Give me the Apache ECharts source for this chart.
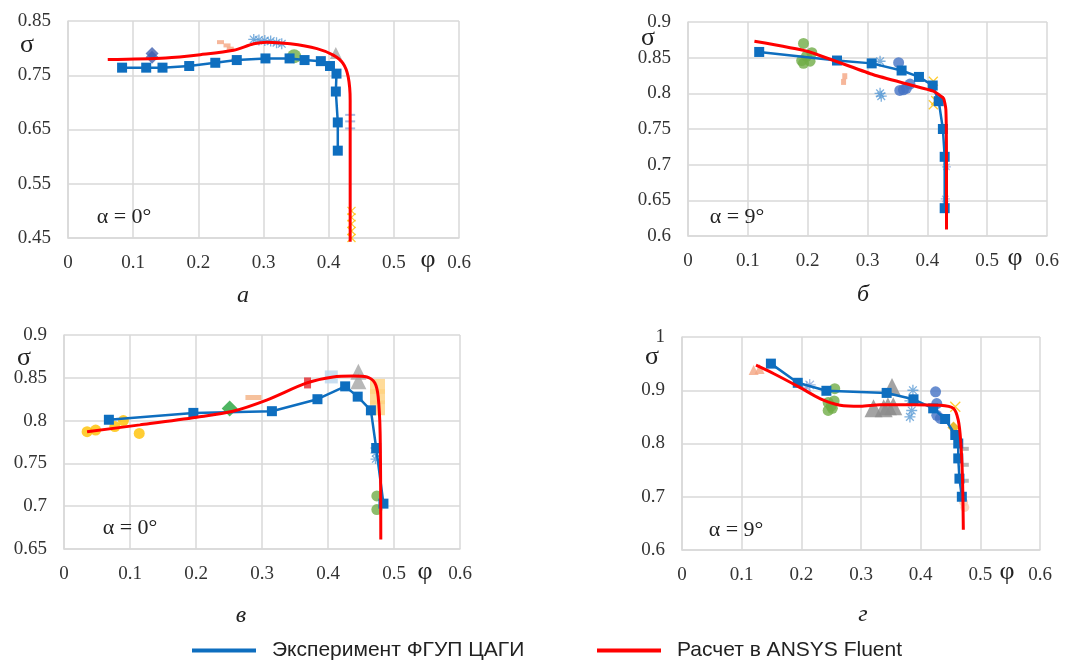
<!DOCTYPE html>
<html>
<head>
<meta charset="utf-8">
<script src="https://cdn.jsdelivr.net/npm/echarts@6/dist/echarts.min.js"></script>
<style>
  html, body { margin: 0; padding: 0; background: #fff; }
  #chart { width: 1087px; height: 662px; }
</style>
</head>
<body>
<div id="chart"></div>
<script>
// ---- данные (φ, σ) ----
// а: α = 0°
const expA = [[0.083,0.764],[0.120,0.764],[0.145,0.764],[0.186,0.767],[0.226,0.773],[0.259,0.778],[0.303,0.781],[0.340,0.781],[0.363,0.778],[0.388,0.776],[0.402,0.767],[0.412,0.753],[0.411,0.720],[0.414,0.663],[0.414,0.611]];
const calcA = [[0.061,0.779],[0.150,0.782],[0.203,0.788],[0.254,0.796],[0.285,0.808],[0.305,0.811],[0.341,0.808],[0.382,0.799],[0.407,0.787],[0.422,0.772],[0.430,0.747],[0.433,0.704],[0.433,0.600],[0.433,0.443]];
const diamondA = [[0.129,0.790],[0.129,0.783]];
const dashA = [[0.234,0.811],[0.244,0.805],[0.249,0.799],[0.256,0.778]];
const starA = [[0.285,0.816],[0.293,0.815],[0.302,0.814],[0.311,0.813],[0.320,0.810],[0.328,0.808]];
const circleA = [[0.347,0.785]];
const triA = [[0.411,0.791]];
const barA = [[0.433,0.677],[0.433,0.665],[0.433,0.652]];
const crossA = [[0.435,0.500],[0.435,0.488],[0.435,0.476],[0.435,0.463],[0.435,0.450]];

// б: α = 9°
const expB = [[0.119,0.858],[0.249,0.846],[0.307,0.842],[0.357,0.832],[0.386,0.823],[0.409,0.811],[0.419,0.789],[0.426,0.750],[0.429,0.711],[0.429,0.639]];
const calcB = [[0.111,0.873],[0.199,0.859],[0.310,0.826],[0.371,0.812],[0.410,0.803],[0.427,0.793],[0.431,0.777],[0.432,0.697],[0.432,0.609]];
const circleB = [[0.193,0.870],[0.193,0.842],[0.198,0.852],[0.207,0.857],[0.204,0.845],[0.190,0.846]];
const dashB = [[0.262,0.824],[0.260,0.816]];
const starB = [[0.321,0.800],[0.323,0.796],[0.321,0.845]];
const dotB = [[0.352,0.843],[0.354,0.804],[0.360,0.805],[0.365,0.807],[0.371,0.813]];
const crossB = [[0.410,0.817],[0.410,0.784],[0.414,0.790]];
const barB = [[0.430,0.652],[0.432,0.697]];

// в: α = 0°
const expC = [[0.068,0.801],[0.196,0.809],[0.315,0.811],[0.384,0.825],[0.426,0.840],[0.445,0.828],[0.465,0.812],[0.473,0.768],[0.484,0.703]];
const calcC = [[0.035,0.787],[0.115,0.795],[0.201,0.804],[0.256,0.811],[0.307,0.824],[0.368,0.844],[0.408,0.851],[0.438,0.852],[0.459,0.851],[0.471,0.844],[0.476,0.828],[0.479,0.785],[0.480,0.661]];
const yellowC = [[0.035,0.787],[0.048,0.789],[0.077,0.793],[0.090,0.800],[0.114,0.785]];
const diamondC = [[0.251,0.814]];
const dashC = [[0.287,0.827]];
const redMarkC = [[0.369,0.844]];
const lightSqC = [[0.405,0.851]];
const triC = [[0.446,0.857],[0.446,0.846]];
const orangeC = [[0.475,0.840],[0.475,0.828],[0.475,0.815]];
const starC = [[0.472,0.768],[0.472,0.762],[0.472,0.755]];
const circleC = [[0.474,0.712],[0.474,0.696]];

// г: α = 9°
const expD = [[0.149,0.950],[0.194,0.914],[0.242,0.899],[0.343,0.895],[0.388,0.883],[0.421,0.866],[0.441,0.846],[0.458,0.816],[0.463,0.800],[0.463,0.772],[0.465,0.734],[0.469,0.700]];
const calcD = [[0.124,0.947],[0.154,0.931],[0.198,0.905],[0.232,0.884],[0.265,0.872],[0.299,0.870],[0.332,0.873],[0.388,0.873],[0.433,0.872],[0.455,0.866],[0.463,0.844],[0.467,0.806],[0.470,0.738],[0.4715,0.638]];
const salmonD = [[0.120,0.938],[0.130,0.940]];
const starD = [[0.209,0.906],[0.214,0.910]];
const circleD = [[0.256,0.903],[0.245,0.877],[0.250,0.870],[0.245,0.862],[0.255,0.880],[0.252,0.866]];
const triD = [[0.321,0.866],[0.338,0.866],[0.352,0.906],[0.354,0.870],[0.345,0.870]];
const starD2 = [[0.387,0.900],[0.382,0.850],[0.382,0.880],[0.385,0.862]];
const dotD = [[0.425,0.897],[0.427,0.875],[0.427,0.853],[0.433,0.847]];
const crossD = [[0.458,0.869]];
const goldD = [[0.455,0.830]];
const dashD = [[0.474,0.790],[0.474,0.760],[0.474,0.730]];
const orangeD = [[0.474,0.680],[0.472,0.690]];

const EXP = 'Эксперимент ФГУП ЦАГИ';
const CALC = 'Расчет в ANSYS Fluent';

const STAR = 'path://M0,5L10,5M5,0L5,10M1.5,1.5L8.5,8.5M8.5,1.5L1.5,8.5';
const CROSS = 'path://M0,0L10,10M10,0L0,10';

const grids = [
    { left: 68, top: 21, width: 391, height: 217 },
    { left: 688, top: 22, width: 359, height: 214 },
    { left: 64, top: 335, width: 396, height: 214 },
    { left: 682, top: 337, width: 358, height: 213 }
];
const yRanges = [[0.45, 0.85, 0.1], [0.6, 0.9, 0.05], [0.65, 0.9, 0.05], [0.6, 1, 0.1]];

const gridColor = '#d9d9d9';
const labelStyle = { fontFamily: 'Liberation Serif', fontSize: 19, color: '#333' };

const xAxes = grids.map((g, i) => ({
    type: 'value', gridIndex: i, min: 0, max: 0.6, interval: 0.1,
    axisLine: { lineStyle: { color: gridColor, width: 1.5 } },
    axisTick: { show: false },
    splitLine: { lineStyle: { color: gridColor, width: 1.5 } },
    axisLabel: Object.assign({ margin: 16 }, labelStyle)
}));
const yAxes = yRanges.map((r, i) => ({
    type: 'value', gridIndex: i, min: r[0], max: r[1], interval: r[2],
    axisLine: { show: true, lineStyle: { color: gridColor, width: 1.5 } },
    axisTick: { show: false },
    splitLine: { lineStyle: { color: gridColor, width: 1.5 } },
    axisLabel: Object.assign({ margin: 17 }, labelStyle)
}));

const expLine = (data, i) => ({
    type: 'line', name: EXP, xAxisIndex: i, yAxisIndex: i, data: data,
    symbol: 'rect', symbolSize: 10, z: 3,
    lineStyle: { color: '#0E6EBF', width: 2.5 },
    itemStyle: { color: '#0E6EBF' }
});
const calcLine = (data, i, sm) => ({
    type: 'line', name: CALC, xAxisIndex: i, yAxisIndex: i, data: data,
    symbol: 'none', smooth: sm, clip: false, z: 4,
    lineStyle: { color: '#FF0000', width: 3 },
    itemStyle: { color: '#FF0000' }
});
const pts = (data, i, symbol, size, color, stroke) => ({
    type: 'scatter', xAxisIndex: i, yAxisIndex: i, data: data,
    symbol: symbol, symbolSize: size, z: 2,
    itemStyle: stroke ? { color: 'none', borderColor: color, borderWidth: 1.3 } : { color: color }
});

const series = [
    pts(diamondA, 0, 'diamond', 13, '#4060B0'),
    pts(dashA, 0, 'rect', [7, 4], '#F4A582'),
    pts(starA, 0, STAR, 11, '#5B9BD5', true),
    pts(circleA, 0, 'circle', 14, '#70AD47'),
    pts(triA, 0, 'triangle', 12, '#A5A5A5'),
    pts(barA, 0, 'rect', [10, 2], '#8FAADC'),
    pts(crossA, 0, CROSS, 8, '#FFC000', true),
    expLine(expA, 0),
    calcLine(calcA, 0, 0.3),

    pts(circleB, 1, 'circle', 11, '#70AD47'),
    pts(dashB, 1, 'rect', [5, 6], '#F4A582'),
    pts(starB, 1, STAR, 11, '#5B9BD5', true),
    pts(dotB, 1, 'circle', 11, '#4472C4'),
    pts(crossB, 1, CROSS, 9, '#FFC000', true),
    pts(barB, 1, STAR, 9, '#8FAADC', true),
    expLine(expB, 1),
    calcLine(calcB, 1, 0.15),

    pts(yellowC, 2, 'circle', 11, '#FFC000'),
    pts(diamondC, 2, 'diamond', 16, '#22A33A'),
    pts(dashC, 2, 'rect', [16, 5], '#F4B183'),
    pts(redMarkC, 2, 'rect', [7, 11], '#E3262A'),
    pts(lightSqC, 2, 'rect', 13, '#BDD7EE'),
    pts(triC, 2, 'triangle', 16, '#A5A5A5'),
    pts(orangeC, 2, 'rect', 15, '#FFD280'),
    pts(starC, 2, STAR, 10, '#5B9BD5', true),
    pts(circleC, 2, 'circle', 11, '#70AD47'),
    expLine(expC, 2),
    calcLine(calcC, 2, 0.3),

    pts(salmonD, 3, 'triangle', 10, '#F4A582'),
    pts(starD, 3, STAR, 12, '#8FAADC', true),
    pts(circleD, 3, 'circle', 11, '#70AD47'),
    pts(triD, 3, 'triangle', 18, '#8C8C8C'),
    pts(starD2, 3, STAR, 11, '#5B9BD5', true),
    pts(dotD, 3, 'circle', 11, '#4472C4'),
    pts(crossD, 3, CROSS, 10, '#FFC000', true),
    pts(goldD, 3, 'diamond', 12, '#E0A800'),
    pts(dashD, 3, 'rect', [8, 4], '#A5A5A5'),
    pts(orangeD, 3, 'circle', 9, '#F8CBAD'),
    expLine(expD, 3),
    calcLine(calcD, 3, 0.3)
];

const txt = (text, x, y, font, extra) => ({
    type: 'text', z: 10,
    style: Object.assign({ text: text, x: x, y: y, font: font, fill: '#222', align: 'center', verticalAlign: 'middle' }, extra || {})
});
const symFont = '26px "Liberation Serif"';
const alphaFont = '22px "Liberation Serif"';
const subFont = 'italic 24px "Liberation Serif"';

const graphics = [
    txt('σ', 27, 45, symFont), txt('σ', 648, 38, symFont), txt('σ', 24, 358, symFont), txt('σ', 652, 357, symFont),
    txt('φ', 428, 260, symFont), txt('φ', 1015, 258, symFont), txt('φ', 425, 572, symFont), txt('φ', 1007, 572, symFont),
    txt('α = 0°', 124, 217, alphaFont), txt('α = 9°', 737, 217, alphaFont),
    txt('α = 0°', 130, 528, alphaFont), txt('α = 9°', 736, 530, alphaFont),
    txt('а', 243, 296, subFont), txt('б', 863, 295, subFont),
    txt('в', 241, 616, subFont), txt('г', 863, 615, subFont)
];

const legendText = { fontFamily: 'Liberation Sans', fontSize: 21, color: '#222', padding: [0, 0, 0, 11] };

const chart = echarts.init(document.getElementById('chart'));
chart.setOption({
    animation: false,
    grid: grids,
    xAxis: xAxes,
    yAxis: yAxes,
    legend: [
        { left: 187, top: 635, icon: 'rect', itemWidth: 64, itemHeight: 4, data: [{ name: EXP, itemStyle: { color: '#0E6EBF' } }], textStyle: legendText },
        { left: 592, top: 635, icon: 'rect', itemWidth: 64, itemHeight: 4, data: [{ name: CALC, itemStyle: { color: '#FF0000' } }], textStyle: legendText }
    ],
    graphic: graphics,
    series: series
});
</script>
</body>
</html>
